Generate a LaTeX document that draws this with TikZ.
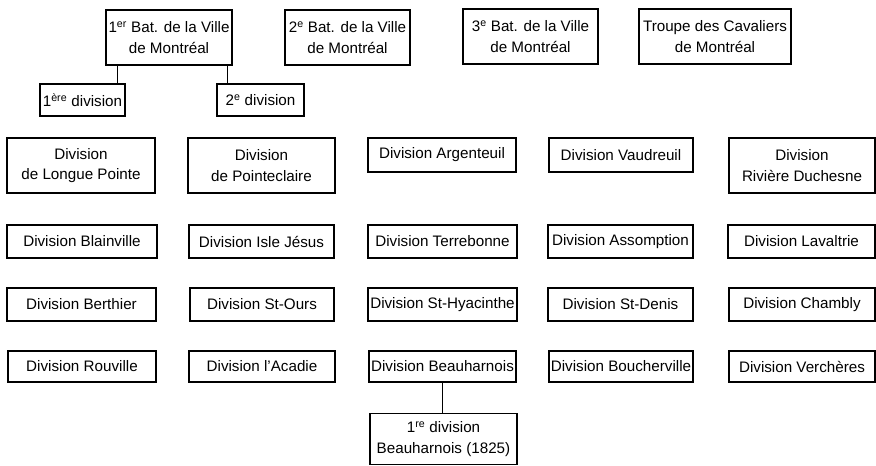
\documentclass[tikz,border=0pt]{standalone}
\usepackage{fontspec}
\setmainfont{Liberation Sans}
\tikzset{
  unit/.style={draw, line width=1.4pt, align=center, inner sep=0pt,
    font=\fontsize{15.2}{20.5}\selectfont},
  bat/.style={unit, minimum height=55pt},
  twoline/.style={unit, minimum height=55pt},
  oneline/.style={unit, minimum height=33pt},
}

\begin{document}
\begin{tikzpicture}[x=1pt,y=-1pt]
  \useasboundingbox (0,0) rectangle (876,466);

  % bataillons
  \node[bat, minimum width=126pt] (bat1) at (169,37.5) {1\textsuperscript{er} Bat. de la Ville\\de Montréal};
  \node[bat, minimum width=125pt] (bat2) at (347.5,37.5) {2\textsuperscript{e} Bat. de la Ville\\de Montréal};
  \node[bat, minimum width=135pt] (bat3) at (530.5,36.5) {3\textsuperscript{e} Bat. de la Ville\\de Montréal};
  \node[bat, minimum width=152pt] (cav) at (715,36.5) {Troupe des Cavaliers\\de Montréal};

  \node[unit, minimum width=85pt, minimum height=32pt] (div1) at (82.5,100) {1\textsuperscript{ère} division};
  \node[unit, minimum width=87pt, minimum height=32pt] (div2) at (260.5,100) {2\textsuperscript{e} division};

  \draw[line width=1.4pt] ([xshift=-8pt]div1.north east) -- ([xshift=-8pt]div1.north east |- bat1.south);
  \draw[line width=1.4pt] ([xshift=11pt]div2.north west) -- ([xshift=11pt]div2.north west |- bat1.south);

  % divisions
  \node[twoline, minimum width=148pt] (longue) at (81,165.5) {Division\\de Longue Pointe};
  \node[twoline, minimum width=147pt] (pointe) at (261.5,165.5) {Division\\de Pointeclaire};
  \node[oneline, minimum width=148pt, minimum height=34pt] (argent) at (442,155) {Division Argenteuil};
  \node[oneline, minimum width=144pt, minimum height=34pt] (vaud) at (621,155) {Division Vaudreuil};
  \node[twoline, minimum width=146pt] (riviere) at (802,165.5) {Division\\Rivière Duchesne};

  \node[oneline, minimum width=150pt] (blain) at (82,241.5) {Division Blainville};
  \node[oneline, minimum width=145pt] (isle) at (261.5,241.5) {Division Isle Jésus};
  \node[oneline, minimum width=149pt] (terre) at (442.5,241.5) {Division Terrebonne};
  \node[oneline, minimum width=145pt] (assomp) at (620.5,241.5) {Division Assomption};
  \node[oneline, minimum width=147pt] (laval) at (801.5,241.5) {Division Lavaltrie};

  \node[oneline, minimum width=149pt] (berth) at (81.5,304.5) {Division Berthier};
  \node[oneline, minimum width=144pt] (ours) at (262,304.5) {Division St-Ours};
  \node[oneline, minimum width=149pt] (hyac) at (442.5,304.5) {Division St-Hyacinthe};
  \node[oneline, minimum width=145pt] (denis) at (620.5,304.5) {Division St-Denis};
  \node[oneline, minimum width=146pt] (chambly) at (802,304.5) {Division Chambly};

  \node[oneline, minimum width=148pt, minimum height=31pt] (rouv) at (82,366.5) {Division Rouville};
  \node[oneline, minimum width=146pt, minimum height=31pt] (acadie) at (262,366.5) {Division l’Acadie};
  \node[oneline, minimum width=147pt, minimum height=31pt] (beauh) at (442.5,366.5) {Division Beauharnois};
  \node[oneline, minimum width=144pt, minimum height=31pt] (bouch) at (621,366.5) {Division Boucherville};
  \node[oneline, minimum width=146pt, minimum height=31pt] (verch) at (802,366.5) {Division Verchères};

  \node[unit, minimum width=147pt, minimum height=51pt] (beauh1) at (443.5,439) {1\textsuperscript{re} division\\Beauharnois (1825)};

  \draw[line width=1.4pt] (beauh.south) -- (beauh.south |- beauh1.north);
\end{tikzpicture}
\end{document}
